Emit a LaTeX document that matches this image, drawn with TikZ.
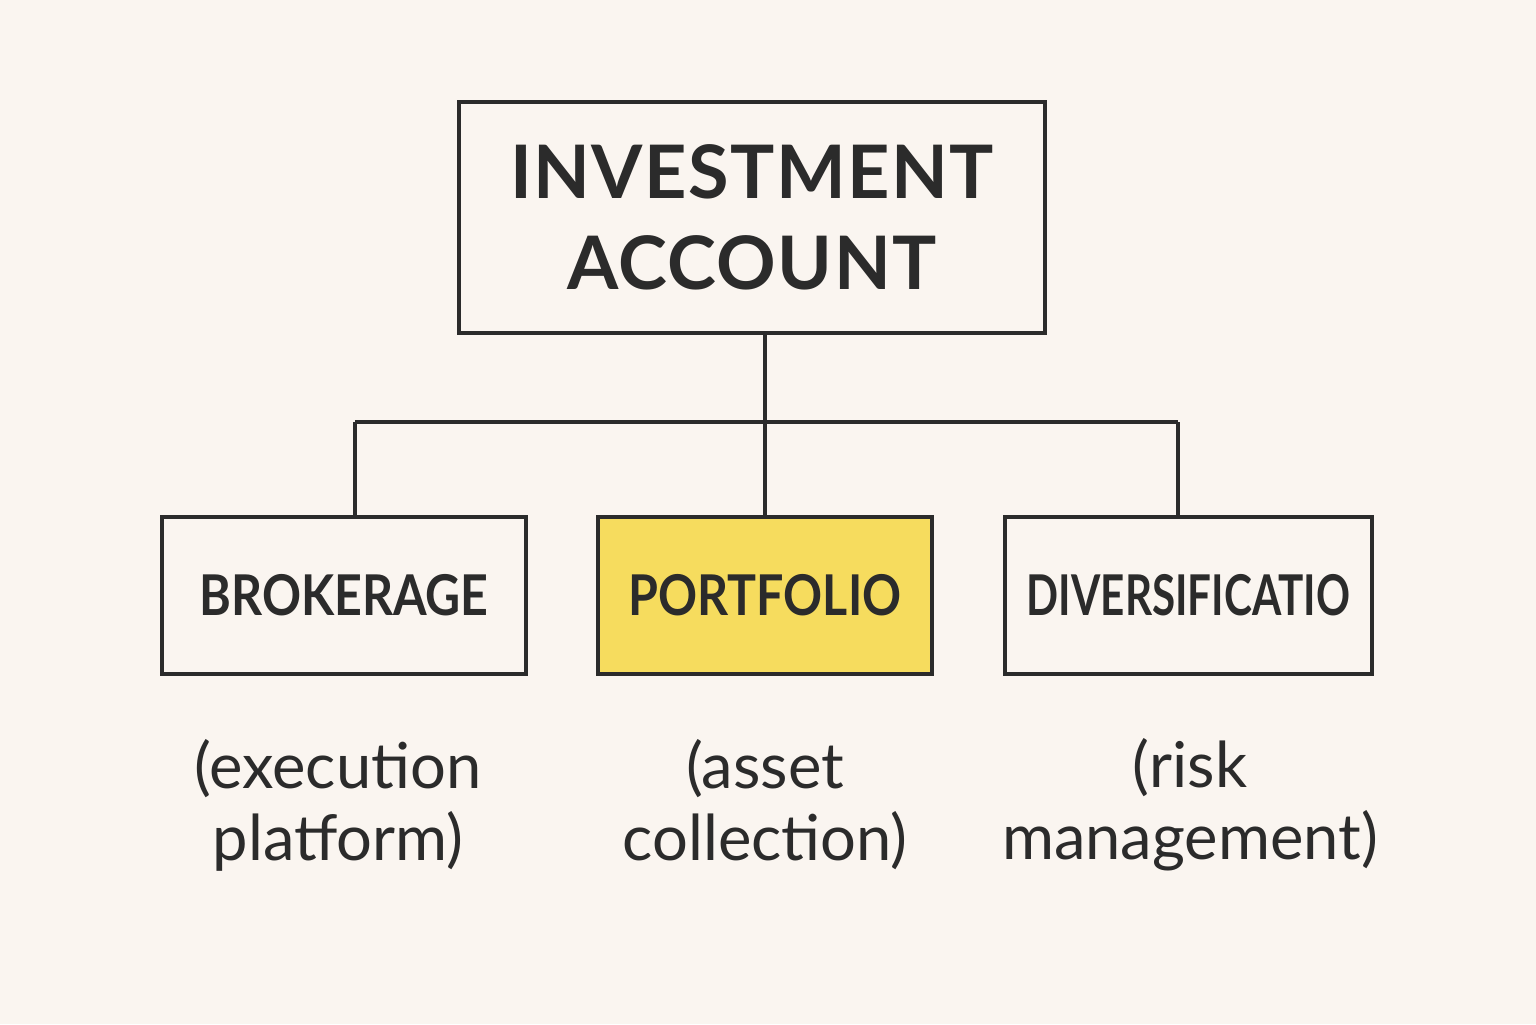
\documentclass[tikz,border=0pt]{standalone}
\usepackage{fontspec}
\setmainfont{Lato}
\usetikzlibrary{calc}

\definecolor{paper}{HTML}{FAF5F0}
\definecolor{ink}{HTML}{2B2B2B}
\definecolor{sunny}{HTML}{F6DC5E}

\begin{document}
\begin{tikzpicture}[
  box/.style={draw=ink, line width=1.4pt, fill=paper, inner sep=0pt, text=ink},
  tag/.style={font=\fontsize{16}{18}\selectfont\bfseries\addfontfeatures{FakeStretch=#1}},
  tag/.default=0.86,
  link/.style={draw=ink, line width=1.4pt},
  note/.style={align=center, text=ink, font=\fontsize{18}{20.5}\selectfont}
]

% Background sheet
\fill[paper] (0,0) rectangle (15.36,10.24);
\useasboundingbox (0,0) rectangle (15.36,10.24);

% Top box
\node[box, minimum width=5.86cm, minimum height=2.31cm, align=center,
  font=\fontsize{21}{23}\selectfont\bfseries\addfontfeatures{LetterSpace=2}] (acct) at (7.52,8.065)
  {INVESTMENT\\[3pt]ACCOUNT};

% Three child boxes
\node[box, tag, minimum width=3.64cm, minimum height=1.57cm] (broker) at (3.44,4.285) {BROKERAGE};
\node[box, tag, fill=sunny, minimum width=3.34cm, minimum height=1.57cm] (portf) at (7.65,4.285) {PORTFOLIO};
\node[box, tag=0.75, minimum width=3.67cm, minimum height=1.57cm] (divers) at (11.885,4.285) {DIVERSIFICATIO};

% Junction points on the bar
\coordinate (hub) at (7.65,6.02);
\coordinate (jL) at (3.55,6.02);
\coordinate (jR) at (11.78,6.02);

% Tree lines
\draw[link] (acct.south -| hub) -- (portf.north);
\draw[link] (jL) -- (jR);
\draw[link] (jL) -- (jL |- broker.north);
\draw[link] (jR) -- (jR |- divers.north);

% Captions under the boxes
\node[note] (capL) at (3.38,2.19) {(execution\\platform)};
\node[note] (capM) at (7.65,2.19) {(asset\\collection)};
\node[note] (capR) at (11.9,2.19) {(risk\\management)};

\end{tikzpicture}
\end{document}
